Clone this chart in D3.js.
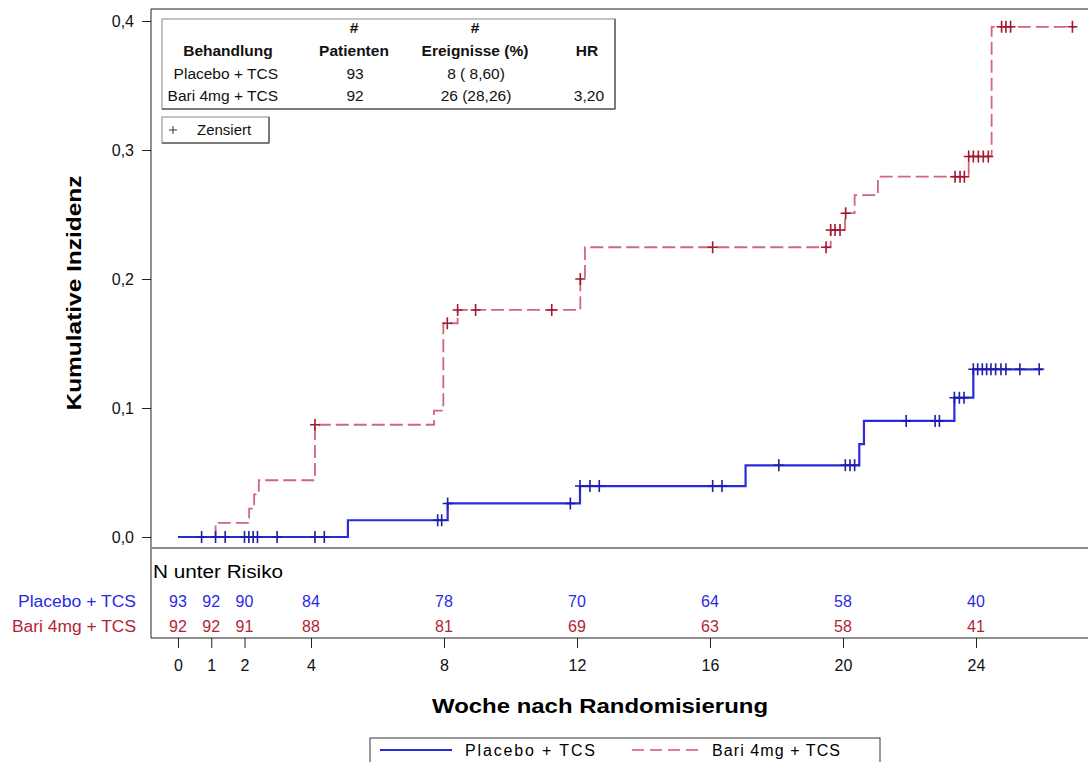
<!DOCTYPE html>
<html>
<head>
<meta charset="utf-8">
<script src="https://cdn.jsdelivr.net/npm/d3@7"></script>
<style>
  body { margin: 0; background: #fff; }
  svg { font-family: "Liberation Sans", Arial, sans-serif; }
</style>
</head>
<body>
<div id="chart"></div>
<script>
// Step curves (week, cumulative incidence)
const placeboTime = [0, 5.11, 8.11, 12.09, 17.07, 20.49, 20.63, 23.35, 23.92];
const placeboInc = [0, 0.013, 0.026, 0.0395, 0.0556, 0.072, 0.09, 0.108, 0.13];
const placeboEnd = 26.0;
const placeboCensor = [0.71, 1.13, 1.42, 2.0, 2.13, 2.26, 2.39, 2.98, 4.12, 4.40, 7.81, 7.93, 8.11,
  11.8, 12.09, 12.39, 12.67, 16.08, 16.36, 18.07, 20.07, 20.21, 20.35, 21.9, 22.77, 22.9,
  23.35, 23.5, 23.64, 23.92, 24.05, 24.19, 24.32, 24.45, 24.59, 24.75, 24.9, 25.32, 25.9];

const bariTime = [0, 1.13, 2.14, 2.29, 2.43, 4.12, 7.7, 7.98, 8.41, 12.1, 12.24, 19.63, 20.06, 20.35, 21.05, 23.78, 24.47];
const bariInc = [0, 0.011, 0.022, 0.033, 0.044, 0.087, 0.098, 0.1657, 0.176, 0.2, 0.2246, 0.238, 0.251, 0.265, 0.2793, 0.295, 0.3955];
const bariEnd = 26.98;
const bariCensor = [4.12, 8.1, 8.41, 8.95, 11.24, 12.1, 16.08, 19.49, 19.63, 19.76, 19.91, 20.08,
  23.37, 23.52, 23.65, 23.78, 23.92, 24.07, 24.22, 24.37, 24.77, 24.9, 25.04, 26.9];

// Number at risk
const riskWeeks = [0, 1, 2, 4, 8, 12, 16, 20, 24];
const riskPlacebo = [93, 92, 90, 84, 78, 70, 64, 58, 40];
const riskBari = [92, 92, 91, 88, 81, 69, 63, 58, 41];

const yTicks = [0, 0.1, 0.2, 0.3, 0.4];
const groupNames = ["Placebo + TCS", "Bari 4mg + TCS"];
const tablePatients = ["93", "92"];
const tableEvents = ["8 ( 8,60)", "26 (28,26)"];
const tableHR = ["", "3,20"];

const blue = "#2b2bdb", blueDark = "#1e1ea8";
const red = "#d0677c", redDark = "#a3182f", redText = "#b51f36";

const W = 1088, H = 762;
const svg = d3.select("#chart").append("svg").attr("width", W).attr("height", H);

const x = d3.scaleLinear().domain([0, 24]).range([178, 976]);
const y = d3.scaleLinear().domain([0, 0.4]).range([537, 21]);
const fmt = v => d3.format(".1f")(v).replace(".", ",");

const plotL = 151, plotT = 9, sepY = 548, botY = 638;

// frame
svg.append("line").attr("x1", plotL).attr("x2", W).attr("y1", plotT).attr("y2", plotT).attr("stroke", "#222");
svg.append("line").attr("x1", plotL).attr("x2", plotL).attr("y1", plotT).attr("y2", botY).attr("stroke", "#222");
svg.append("line").attr("x1", plotL).attr("x2", W).attr("y1", sepY).attr("y2", sepY).attr("stroke", "#8a8a8a").attr("stroke-width", 2);
svg.append("line").attr("x1", plotL).attr("x2", W).attr("y1", botY).attr("y2", botY).attr("stroke", "#222");

// Y axis
const yAxis = svg.append("g").attr("transform", `translate(${plotL},0)`)
  .call(d3.axisLeft(y).tickValues(yTicks).tickFormat(fmt).tickSize(9).tickSizeOuter(0));
yAxis.select(".domain").remove();
yAxis.selectAll("text").attr("font-size", 16).attr("fill", "#111").attr("x", -17);
yAxis.selectAll("line").attr("stroke", "#222");

// X axis (below at-risk table)
const xAxis = svg.append("g").attr("transform", `translate(0,${botY})`)
  .call(d3.axisBottom(x).tickValues(riskWeeks).tickFormat(d3.format("d")).tickSize(10).tickSizeOuter(0));
xAxis.select(".domain").remove();
xAxis.selectAll("text").attr("font-size", 16).attr("fill", "#111").attr("y", 22);
xAxis.selectAll("line").attr("stroke", "#222");

// axis titles
svg.append("text").attr("x", 600).attr("y", 713).attr("text-anchor", "middle")
  .attr("font-size", 20).attr("font-weight", "bold")
  .attr("textLength", 336).attr("lengthAdjust", "spacingAndGlyphs").text("Woche nach Randomisierung");
svg.append("text").attr("transform", "translate(81,293) rotate(-90)").attr("text-anchor", "middle")
  .attr("font-size", 20).attr("font-weight", "bold")
  .attr("textLength", 235).attr("lengthAdjust", "spacingAndGlyphs").text("Kumulative Inzidenz");

// step lines
function stepData(times, vals, end) {
  const pts = times.map((t, i) => [t, vals[i]]);
  pts.push([end, vals[vals.length - 1]]);
  return pts;
}
const line = d3.line().x(d => x(d[0])).y(d => y(d[1])).curve(d3.curveStepAfter);

svg.append("path").datum(stepData(bariTime, bariInc, bariEnd))
  .attr("d", line).attr("fill", "none").attr("stroke", red).attr("stroke-width", 1.8)
  .attr("stroke-dasharray", "13,5");
svg.append("path").datum(stepData(placeboTime, placeboInc, placeboEnd))
  .attr("d", line).attr("fill", "none").attr("stroke", blue).attr("stroke-width", 2.2);

// censor marks
function lookup(times, vals, t) {
  return vals[d3.bisectRight(times, t + 1e-9) - 1];
}
const plus = "M-5,0H5M0,-6V6";
svg.append("g").selectAll("path").data(bariCensor).join("path")
  .attr("transform", d => `translate(${x(d)},${y(lookup(bariTime, bariInc, d))})`)
  .attr("d", plus).attr("stroke", redDark).attr("stroke-width", 1.6).attr("fill", "none");
svg.append("g").selectAll("path").data(placeboCensor).join("path")
  .attr("transform", d => `translate(${x(d)},${y(lookup(placeboTime, placeboInc, d))})`)
  .attr("d", plus).attr("stroke", blueDark).attr("stroke-width", 1.6).attr("fill", "none");

// inset table
const tbl = svg.append("g").attr("font-size", 15.5).attr("fill", "#111");
tbl.append("rect").attr("x", 162).attr("y", 19).attr("width", 453).attr("height", 90)
  .attr("fill", "#fff").attr("stroke", "#888");
tbl.append("line").attr("x1", 615).attr("x2", 615).attr("y1", 19).attr("y2", 109).attr("stroke", "#333");
tbl.append("line").attr("x1", 162).attr("x2", 615).attr("y1", 109).attr("y2", 109).attr("stroke", "#333");
const hdr = tbl.append("g").attr("font-weight", "bold").attr("text-anchor", "middle");
hdr.append("text").attr("x", 354).attr("y", 33).text("#");
hdr.append("text").attr("x", 475).attr("y", 33).text("#");
hdr.append("text").attr("x", 228).attr("y", 56).text("Behandlung");
hdr.append("text").attr("x", 354).attr("y", 56).text("Patienten");
hdr.append("text").attr("x", 475).attr("y", 56).text("Ereignisse (%)");
hdr.append("text").attr("x", 587).attr("y", 56).text("HR");
groupNames.forEach((g, i) => {
  const ty = 79 + i * 22;
  tbl.append("text").attr("x", 278).attr("y", ty).attr("text-anchor", "end").text(g);
  tbl.append("text").attr("x", 355).attr("y", ty).attr("text-anchor", "middle").text(tablePatients[i]);
  tbl.append("text").attr("x", 476).attr("y", ty).attr("text-anchor", "middle").text(tableEvents[i]);
  tbl.append("text").attr("x", 604).attr("y", ty).attr("text-anchor", "end").text(tableHR[i]);
});

// censored legend
const cz = svg.append("g");
cz.append("rect").attr("x", 162).attr("y", 117).attr("width", 107).attr("height", 26)
  .attr("fill", "#fff").attr("stroke", "#888");
cz.append("line").attr("x1", 269).attr("x2", 269).attr("y1", 117).attr("y2", 143).attr("stroke", "#333");
cz.append("line").attr("x1", 162).attr("x2", 269).attr("y1", 143).attr("y2", 143).attr("stroke", "#333");
cz.append("path").attr("transform", "translate(173,130)").attr("d", "M-4,0H4M0,-4V4").attr("stroke", "#333");
cz.append("text").attr("x", 197).attr("y", 135).attr("font-size", 15).attr("fill", "#111").text("Zensiert");

// at-risk table
svg.append("text").attr("x", 153).attr("y", 578).attr("font-size", 18).attr("fill", "#000")
  .attr("textLength", 130).attr("lengthAdjust", "spacingAndGlyphs").text("N unter Risiko");
const rows = [
  { label: groupNames[0], vals: riskPlacebo, color: "#2a2ae6", yy: 607 },
  { label: groupNames[1], vals: riskBari, color: redText, yy: 632 }
];
rows.forEach(r => {
  svg.append("text").attr("x", 136).attr("y", r.yy).attr("text-anchor", "end")
    .attr("font-size", 16).attr("fill", r.color).attr("textLength", r.label === groupNames[0] ? 118 : 124)
    .attr("lengthAdjust", "spacingAndGlyphs").text(r.label);
  svg.append("g").selectAll("text").data(r.vals).join("text")
    .attr("x", (d, i) => x(riskWeeks[i])).attr("y", r.yy).attr("text-anchor", "middle")
    .attr("font-size", 16).attr("fill", r.color).text(d => d);
});

// bottom legend
const lg = svg.append("g");
lg.append("rect").attr("x", 370).attr("y", 738).attr("width", 510).attr("height", 30)
  .attr("fill", "#fff").attr("stroke", "#333");
lg.append("line").attr("x1", 380).attr("x2", 452).attr("y1", 750).attr("y2", 750)
  .attr("stroke", blue).attr("stroke-width", 2);
lg.append("text").attr("x", 465).attr("y", 756).attr("font-size", 16)
  .attr("textLength", 130).attr("lengthAdjust", "spacing").text("Placebo + TCS");
lg.append("line").attr("x1", 632).attr("x2", 700).attr("y1", 750).attr("y2", 750)
  .attr("stroke", "#e07d90").attr("stroke-width", 2).attr("stroke-dasharray", "12,6");
lg.append("text").attr("x", 712).attr("y", 756).attr("font-size", 16)
  .attr("textLength", 128).attr("lengthAdjust", "spacing").text("Bari 4mg + TCS");
</script>
</body>
</html>
